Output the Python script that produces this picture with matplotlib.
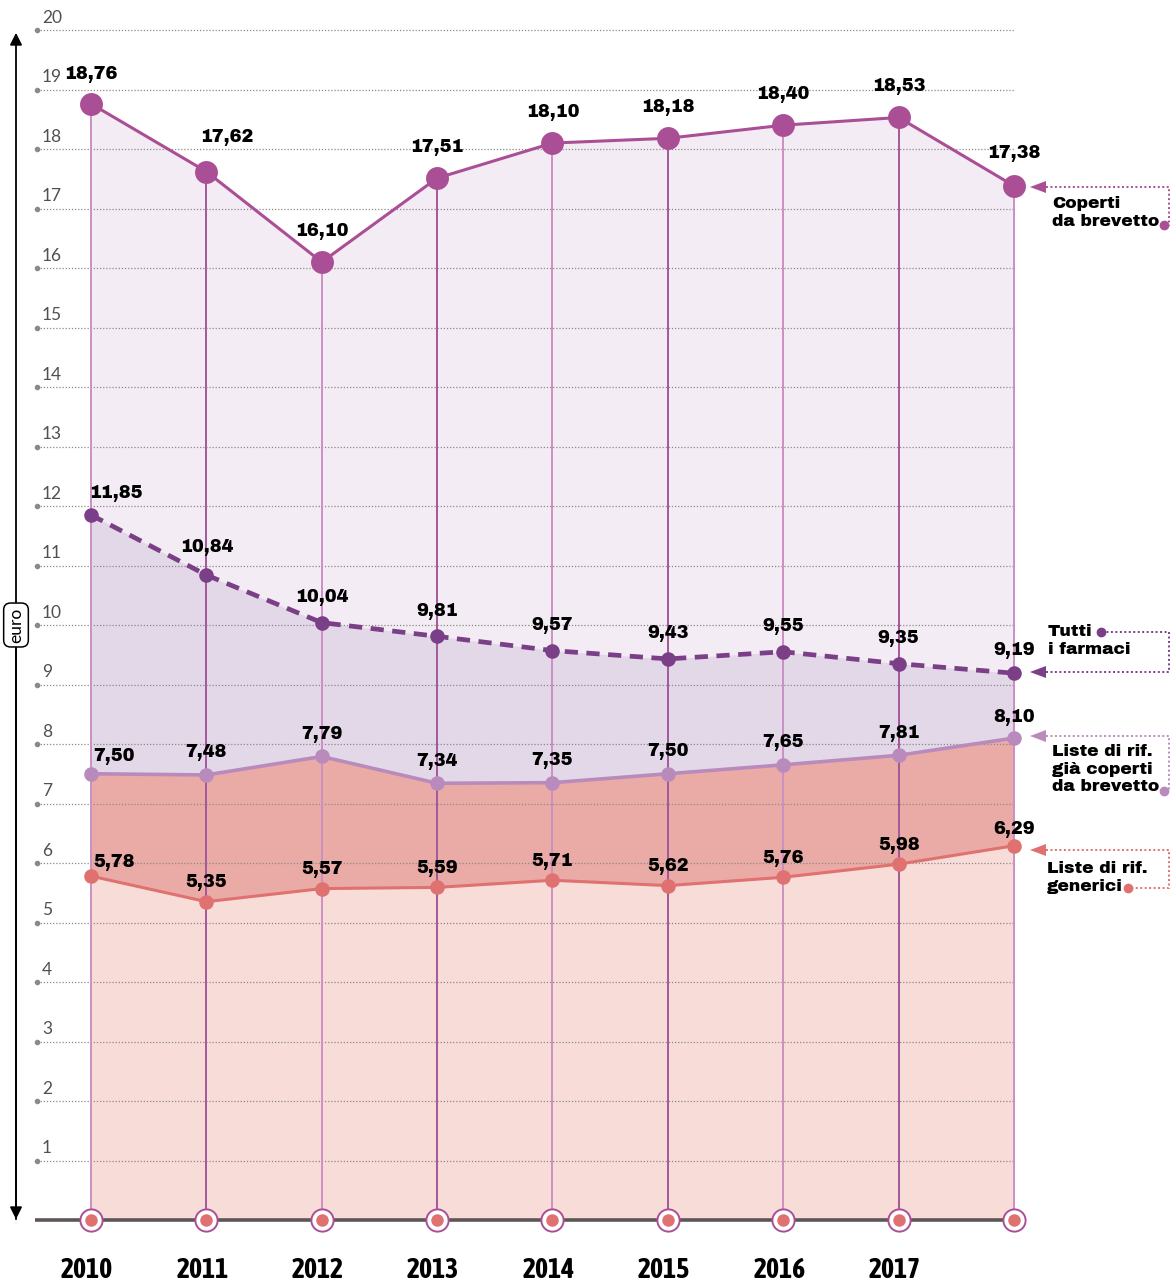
import matplotlib
matplotlib.use("Agg")
import matplotlib.pyplot as plt
from matplotlib.patches import Polygon

years = [2010, 2011, 2012, 2013, 2014, 2015, 2016, 2017, 2018]
year_labels = ["2010", "2011", "2012", "2013", "2014", "2015", "2016", "2017", ""]
coperti_brevetto = [18.76, 17.62, 16.10, 17.51, 18.10, 18.18, 18.40, 18.53, 17.38]
tutti_farmaci = [11.85, 10.84, 10.04, 9.81, 9.57, 9.43, 9.55, 9.35, 9.19]
liste_gia_coperti = [7.50, 7.48, 7.79, 7.34, 7.35, 7.50, 7.65, 7.81, 8.10]
liste_generici = [5.78, 5.35, 5.57, 5.59, 5.71, 5.62, 5.76, 5.98, 6.29]
y_ticks = list(range(1, 21))

C_TOP = "#aa4f95"
C_ALL = "#7b3f88"
C_LIST = "#b98bbd"
C_GEN = "#e07171"
F_TOP = "#f4ecf4"
F_ALL = "#e3d8e8"
F_LIST = "#eaaba6"
F_GEN = "#f7dcd8"

HEAVY = ["Archivo Black", "Lato", "DejaVu Sans"]
LIGHT = ["Lato", "DejaVu Sans"]
NARROW = ["Asap Condensed", "DejaVu Sans"]

# pixel geometry of the canvas
W, H = 1172, 1283
X0, DX = 91.0, 115.375
Y0, DY = 1220.0, 59.5


def px(x):
    return (x - X0) / DX


def py(y):
    return (Y0 - y) / DY


fig = plt.figure(figsize=(W / 100, H / 100), dpi=100)
ax = fig.add_axes([0, 0, 1, 1])
ax.set_xlim(px(0), px(W))
ax.set_ylim(py(H), py(0))
ax.axis("off")

x = list(range(len(years)))

# stacked area fills
ax.fill_between(x, coperti_brevetto, 0, color=F_TOP, lw=0, zorder=1)
ax.fill_between(x, tutti_farmaci, 0, color=F_ALL, lw=0, zorder=1)
ax.fill_between(x, liste_gia_coperti, 0, color=F_LIST, lw=0, zorder=1)
ax.fill_between(x, liste_generici, 0, color=F_GEN, lw=0, zorder=1)

# dotted gridlines with small dot and label at the left
for t in y_ticks:
    ax.plot([px(37), px(1015)], [t, t], ls=(0, (1, 1.5)), color="#8a8a8a", lw=0.9, zorder=2)
    ax.plot(px(37), t, "o", ms=3, color="#8a8a8a", zorder=2)
    ax.text(px(42), t + 0.07, str(t), fontsize=12.5, color="#505050",
            family=LIGHT, ha="left", va="bottom", zorder=2)

# vertical stems from the top series down to the baseline
for i, v in enumerate(coperti_brevetto):
    col = "#cc8fc3" if i % 2 == 0 else "#a3579a"
    ax.plot([i, i], [0, v], color=col, lw=1.4, zorder=3)

# baseline
ax.plot([px(35), len(years) - 1], [0, 0], color="#5e5656", lw=2.6, zorder=3,
        solid_capstyle="butt")

# series lines
ax.plot(x, liste_generici, color=C_GEN, lw=2.2, zorder=4)
ax.plot(x, liste_gia_coperti, color=C_LIST, lw=2.6, zorder=4)
ax.plot(x, tutti_farmaci, color=C_ALL, lw=3.4, ls=(0, (2.8, 1.8)), zorder=4)
ax.plot(x, coperti_brevetto, color=C_TOP, lw=2.2, zorder=4)

ax.plot(x, liste_generici, "o", ms=10.5, color=C_GEN, mew=0, zorder=5)
ax.plot(x, liste_gia_coperti, "o", ms=10.5, color=C_LIST, mew=0, zorder=5)
ax.plot(x, tutti_farmaci, "o", ms=10.5, color=C_ALL, mew=0, zorder=5)
ax.plot(x, coperti_brevetto, "o", ms=16.5, color=C_TOP, mew=0, zorder=5)

# baseline markers
ax.plot(x, [0] * len(x), "o", ms=16, mfc="white", mec=C_TOP, mew=1.4, zorder=5)
ax.plot(x, [0] * len(x), "o", ms=9, color=C_GEN, mew=0, zorder=6)


def fmt(v):
    return f"{v:.2f}".replace(".", ",")


def value_labels(vals, dy_px, first_dx_px=0, first_dy_px=None, last_dy_px=None, extra=None):
    for i, v in enumerate(vals):
        dx = 0
        dy = dy_px
        if i == 0:
            dx = first_dx_px
            if first_dy_px is not None:
                dy = first_dy_px
        if i == len(vals) - 1 and last_dy_px is not None:
            dy = last_dy_px
        if extra and i in extra:
            dx, dy = extra[i]
        ax.text(i + dx / DX, v + dy / DY, fmt(v), fontsize=12.8,
                family=HEAVY, ha="center", va="center", zorder=7)


value_labels(coperti_brevetto, 31, 0, 29, 32, extra={1: (20, 34)})
value_labels(tutti_farmaci, 25, 25, 21, 23, extra={1: (0, 28)})
value_labels(liste_gia_coperti, 22, 23, 17, 21)
value_labels(liste_generici, 19, 23, 14, 16)

# year labels
for i, lab in enumerate(year_labels):
    ax.text(i - 4 / DX, py(1270), lab, fontsize=20, fontweight="bold", family=NARROW,
            ha="center", va="center", zorder=7)

# vertical axis arrow with unit
ax.annotate("", xy=(px(16), py(30)), xytext=(px(16), py(1222)),
            arrowprops=dict(arrowstyle="-|>", color="black", lw=1.3, mutation_scale=18))
ax.annotate("", xy=(px(16), py(1222)), xytext=(px(16), py(600)),
            arrowprops=dict(arrowstyle="-|>", color="black", lw=1.3, mutation_scale=18))
ax.text(px(16), py(625), "euro", rotation=90, fontsize=12.5,
        family=LIGHT, ha="center", va="center", zorder=8,
        bbox=dict(boxstyle="round,pad=0.25,rounding_size=0.4", fc="white", ec="black", lw=1.1))


# right-hand legend callouts
def callout(y_arrow, y_dot, x_dot, color, text, x_text, y_text):
    tri = Polygon([(px(1030), py(y_arrow)), (px(1046), py(y_arrow - 6)),
                   (px(1046), py(y_arrow + 6))], closed=True, fc=color, ec="none", zorder=7)
    ax.add_patch(tri)
    ax.plot([px(1046), px(1169), px(1169), px(x_dot)],
            [py(y_arrow), py(y_arrow), py(y_dot), py(y_dot)],
            color=color, lw=1.4, ls=(0, (1, 1.3)), zorder=7, clip_on=False)
    ax.plot(px(x_dot), py(y_dot), "o", ms=6, color=color, zorder=7)
    ax.text(px(x_text), py(y_text), text, fontsize=12.3, family=HEAVY,
            ha="left", va="top", linespacing=1.22, zorder=7)


callout(187, 225, 1164, C_TOP, "Coperti\nda brevetto", 1052, 196)
callout(672, 632, 1101, C_ALL, "Tutti\ni farmaci", 1048, 624)
callout(736, 791, 1164, C_LIST, "Liste di rif.\ngià coperti\nda brevetto", 1052, 744)
callout(850, 888, 1128, C_GEN, "Liste di rif.\ngenerici", 1047, 861)

fig.savefig("out.png", dpi=100)
